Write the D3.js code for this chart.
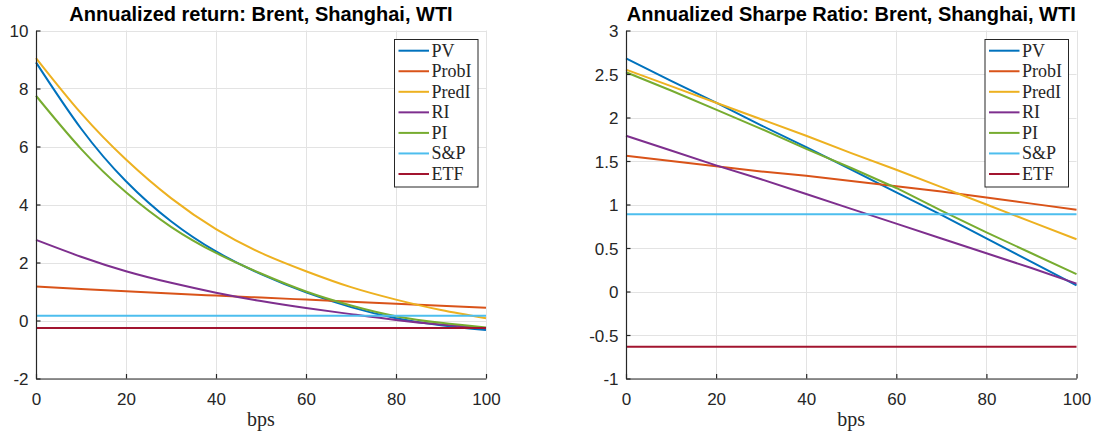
<!DOCTYPE html>
<html>
<head>
<meta charset="utf-8">
<script src="https://cdn.jsdelivr.net/npm/d3@7"></script>
<style>
  html, body { margin: 0; padding: 0; background: #fff; }
  svg { display: block; }
</style>
</head>
<body>
<svg id="chart" width="1097" height="437"></svg>
<script>
// ---------- data ----------
const bps = [0, 10, 20, 30, 40, 50, 60, 70, 80, 90, 100];
const seriesNames = ["PV", "ProbI", "PredI", "RI", "PI", "S&P", "ETF"];
const seriesColors = ["#0072BD", "#D95319", "#EDB120", "#7E2F8E", "#77AC30", "#4DBEEE", "#A2142F"];

// Annualized return
const retPV    = [8.90, 6.62, 4.80, 3.42, 2.38, 1.60, 0.97, 0.46, 0.08, -0.16, -0.33];
const retProbI = [1.17, 1.09, 1.01, 0.93, 0.86, 0.79, 0.72, 0.65, 0.58, 0.51, 0.44];
const retPredI = [9.05, 7.15, 5.55, 4.22, 3.15, 2.33, 1.70, 1.15, 0.72, 0.36, 0.08];
const retRI    = [2.78, 2.20, 1.70, 1.30, 0.96, 0.67, 0.43, 0.22, 0.02, -0.14, -0.27];
const retPI    = [7.75, 5.92, 4.42, 3.23, 2.33, 1.62, 1.00, 0.52, 0.15, -0.08, -0.24];
const retSP    = [0.16, 0.16, 0.16, 0.16, 0.16, 0.16, 0.16, 0.16, 0.16, 0.16, 0.16];
const retETF   = [-0.26, -0.26, -0.26, -0.26, -0.26, -0.26, -0.26, -0.26, -0.26, -0.26, -0.26];

// Annualized Sharpe ratio
const srPV    = [2.68, 2.42, 2.17, 1.91, 1.66, 1.40, 1.14, 0.88, 0.61, 0.34, 0.07];
const srProbI = [1.56, 1.50, 1.44, 1.38, 1.33, 1.27, 1.21, 1.15, 1.08, 1.01, 0.94];
const srPredI = [2.55, 2.36, 2.17, 1.98, 1.79, 1.59, 1.40, 1.20, 1.00, 0.80, 0.60];
const srRI    = [1.79, 1.62, 1.45, 1.29, 1.12, 0.95, 0.78, 0.61, 0.44, 0.27, 0.09];
const srPI    = [2.52, 2.31, 2.09, 1.87, 1.64, 1.42, 1.19, 0.93, 0.68, 0.44, 0.20];
const srSP    = [0.887, 0.887, 0.887, 0.887, 0.887, 0.887, 0.887, 0.887, 0.887, 0.887, 0.887];
const srETF   = [-0.635, -0.635, -0.635, -0.635, -0.635, -0.635, -0.635, -0.635, -0.635, -0.635, -0.635];

const xTicks = [0, 20, 40, 60, 80, 100];
const retTicks = [-2, 0, 2, 4, 6, 8, 10];
const srTicks = [-1, -0.5, 0, 0.5, 1, 1.5, 2, 2.5, 3];

const panels = [
  {
    title: "Annualized return: Brent, Shanghai, WTI",
    series: [retPV, retProbI, retPredI, retRI, retPI, retSP, retETF],
    yDomain: [-2, 10], yTicks: retTicks,
    left: 36, right: 486, top: 30.5, bottom: 378.5,
    curve: d3.curveNatural
  },
  {
    title: "Annualized Sharpe Ratio: Brent, Shanghai, WTI",
    series: [srPV, srProbI, srPredI, srRI, srPI, srSP, srETF],
    yDomain: [-1, 3], yTicks: srTicks,
    left: 626, right: 1076.5, top: 30.5, bottom: 378.5,
    curve: d3.curveLinear
  }
];

const svg = d3.select("#chart");
const fmt = v => String(v).replace("\u2212", "-");
const gridColor = "#e3e3e3";
const axisColor = "#262626";

panels.forEach(p => {
  const x = d3.scaleLinear().domain([0, 100]).range([p.left, p.right]);
  const y = d3.scaleLinear().domain(p.yDomain).range([p.bottom, p.top]);
  const g = svg.append("g");

  // grid
  g.append("g").selectAll("line.vg").data(xTicks).join("line")
    .attr("x1", d => Math.round(x(d)) + 0.5).attr("x2", d => Math.round(x(d)) + 0.5)
    .attr("y1", p.top).attr("y2", p.bottom)
    .attr("stroke", gridColor).attr("stroke-width", 1);
  g.append("g").selectAll("line.hg").data(p.yTicks).join("line")
    .attr("x1", p.left).attr("x2", p.right)
    .attr("y1", d => Math.round(y(d)) + 0.5).attr("y2", d => Math.round(y(d)) + 0.5)
    .attr("stroke", gridColor).attr("stroke-width", 1);

  // lines
  const line = d3.line().x((d, i) => x(bps[i])).y(d => y(d)).curve(p.curve);
  p.series.forEach((s, k) => {
    g.append("path").datum(s)
      .attr("d", line)
      .attr("fill", "none")
      .attr("stroke", seriesColors[k])
      .attr("stroke-width", 2);
  });

  // axes (ticks inward)
  const xAxis = d3.axisBottom(x).tickValues(xTicks).tickFormat(fmt).tickSizeInner(-4.5).tickSizeOuter(0).tickPadding(14);
  const yAxis = d3.axisLeft(y).tickValues(p.yTicks).tickFormat(fmt).tickSizeInner(-4.5).tickSizeOuter(0).tickPadding(7.5);
  const gx = g.append("g").attr("transform", `translate(0,${p.bottom})`).call(xAxis);
  const gy = g.append("g").attr("transform", `translate(${p.left},0)`).call(yAxis);
  [gx, gy].forEach(a => {
    a.select(".domain").attr("stroke", axisColor).attr("stroke-width", 1.2);
    a.selectAll(".tick line").attr("stroke", axisColor).attr("stroke-width", 1.2);
    a.selectAll(".tick text")
      .attr("fill", axisColor)
      .style("font-family", "'Liberation Sans', Arial, sans-serif")
      .style("font-size", "17px");
  });
  gy.selectAll(".tick text").attr("dy", "0.36em");

  // title
  g.append("text")
    .attr("x", (p.left + p.right) / 2).attr("y", 21)
    .attr("text-anchor", "middle")
    .style("font-family", "'Liberation Sans', Arial, sans-serif")
    .style("font-weight", "bold")
    .style("font-size", "20px")
    .attr("fill", "#000")
    .text(p.title);

  // x label
  g.append("text")
    .attr("x", (p.left + p.right) / 2).attr("y", 426)
    .attr("text-anchor", "middle")
    .style("font-family", "'Liberation Serif', 'Times New Roman', serif")
    .style("font-size", "20px")
    .attr("fill", axisColor)
    .text("bps");

  // legend
  const lx = p.right - 92, ly = 39;
  const lg = g.append("g");
  lg.append("rect")
    .attr("x", lx + 0.5).attr("y", ly + 0.5)
    .attr("width", 83.5).attr("height", 147.5)
    .attr("fill", "#fff").attr("stroke", axisColor).attr("stroke-width", 1);
  seriesNames.forEach((name, k) => {
    const yy = 50.7 + k * 20.55;
    lg.append("line")
      .attr("x1", lx + 4.5).attr("x2", lx + 35)
      .attr("y1", yy).attr("y2", yy)
      .attr("stroke", seriesColors[k]).attr("stroke-width", 2);
    lg.append("text")
      .attr("x", lx + 37.5).attr("y", yy + 6)
      .style("font-family", "'Liberation Serif', 'Times New Roman', serif")
      .style("font-size", "18px")
      .attr("fill", axisColor)
      .text(name);
  });
});
</script>
</body>
</html>
